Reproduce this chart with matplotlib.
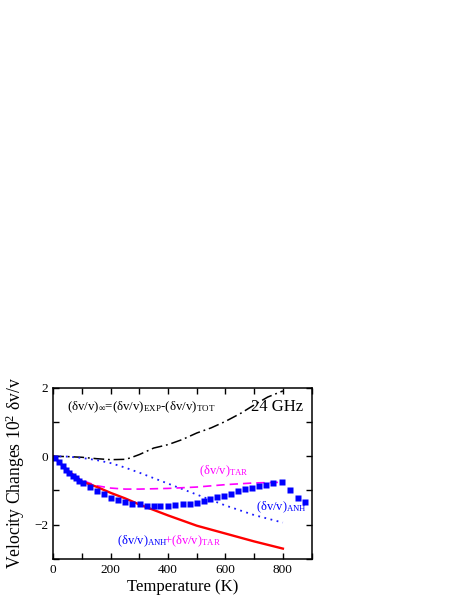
import matplotlib
matplotlib.use('Agg')
import matplotlib.pyplot as plt

plt.rcParams['font.family'] = ['Liberation Serif', 'DejaVu Serif']
plt.rcParams['mathtext.fontset'] = 'custom'
plt.rcParams['mathtext.rm'] = 'Liberation Serif'
plt.rcParams['mathtext.it'] = 'Liberation Serif:italic'

# measured points (blue squares)
T_exp = [6, 21, 33, 44, 56, 68, 79, 91, 103, 128, 154, 177, 202, 227, 251, 276,
         301, 326, 350, 373, 400, 425, 451, 476, 501, 524, 545, 571, 594, 618,
         643, 667, 691, 717, 740, 766, 796, 825, 851, 876]
dv_exp = [-0.04, -0.17, -0.28, -0.41, -0.50, -0.58, -0.65, -0.72, -0.78, -0.91,
          -1.01, -1.11, -1.21, -1.28, -1.35, -1.41, -1.41, -1.44, -1.45, -1.45,
          -1.44, -1.43, -1.41, -1.40, -1.36, -1.31, -1.26, -1.20, -1.16, -1.09,
          -1.03, -0.97, -0.92, -0.87, -0.83, -0.78, -0.76, -0.99, -1.22, -1.34]

# model curves
T_calc = [0, 25, 50, 75, 100, 150, 200, 250, 300, 400, 500, 600, 700, 800]
dv_tar = [0, -0.21, -0.42, -0.57, -0.70, -0.86, -0.93, -0.96, -0.96, -0.94,
          -0.90, -0.83, -0.78, -0.76]
dv_anh = [0, -0.005, -0.01, -0.03, -0.05, -0.11, -0.20, -0.33, -0.48, -0.80,
          -1.12, -1.44, -1.72, -1.94]
dv_sum = [0, -0.21, -0.42, -0.58, -0.74, -0.89, -1.07, -1.23, -1.41, -1.73,
          -2.03, -2.26, -2.49, -2.70]

# difference exp - tot
T_diff = [0, 50, 100, 150, 200, 250, 268, 300, 350, 400, 450, 500, 550, 600,
          654, 700, 747, 800]
dv_diff = [0, -0.01, -0.03, -0.07, -0.10, -0.09, -0.05, 0.05, 0.24, 0.34, 0.49,
           0.68, 0.83, 1.02, 1.26, 1.50, 1.73, 1.91]

fig = plt.figure(figsize=(4.63, 5.99), dpi=100)
ax = fig.add_axes([0.115, 0.067, 0.558, 0.2855])

ax.plot(T_diff, dv_diff, color='black', lw=1.1, linestyle=(0, (7, 2.5, 1.2, 2.5)))
ax.plot(T_calc, dv_anh, color='#1a1aff', lw=1.3, linestyle=(0, (1, 2.5)))
ax.plot(T_calc, dv_tar, color='#ff00ff', lw=1.2, linestyle=(0, (5, 3)))
ax.plot(T_calc, dv_sum, color='#ff0000', lw=1.7)
ax.plot(T_exp, dv_exp, 's', color='#0000ff', ms=4.5, mec='none')

ax.set_xlim(0, 900)
ax.set_ylim(-3, 2)
ax.set_xticks([0, 200, 400, 600, 800])
ax.set_xticks([100, 300, 500, 700, 900], minor=True)
ax.set_yticks([-2, 0, 2])
ax.set_yticks([-3, -1, 1], minor=True)
ax.tick_params(which='both', direction='in', top=True, right=True,
               length=4, width=1, labelsize=9.5)
for s in ax.spines.values():
    s.set_linewidth(1.1)

ax.set_xlabel('Temperature (K)', fontsize=12, labelpad=2)
ax.set_ylabel('Velocity Changes 10$^2$ δv/v', fontsize=12.7, labelpad=5)

ax.text(48, 1.42, r'(δv/v)$_{\infty}$=(δv/v)$_{\mathrm{EXP}}$-(δv/v)$_{\mathrm{TOT}}$',
        fontsize=9.3, va='center')
ax.text(688, 1.45, '24 GHz', fontsize=12, va='center')
ax.text(508, -0.45, r'(δv/v)$_{\mathrm{TAR}}$', fontsize=9, color='#ff00ff', va='center')
ax.text(705, -1.5, r'(δv/v)$_{\mathrm{ANH}}$', fontsize=9, color='#0000ff', va='center')
t1 = ax.text(222, -2.5, r'(δv/v)$_{\mathrm{ANH}}$', fontsize=9, color='#0000ff', va='center')
ax.annotate(r'+(δv/v)$_{\mathrm{TAR}}$', xy=(1, 0), xycoords=t1, xytext=(-2.5, 0),
            textcoords='offset points', fontsize=9, color='#ff00ff',
            va='bottom', ha='left')

fig.savefig('out.png', dpi=100)
